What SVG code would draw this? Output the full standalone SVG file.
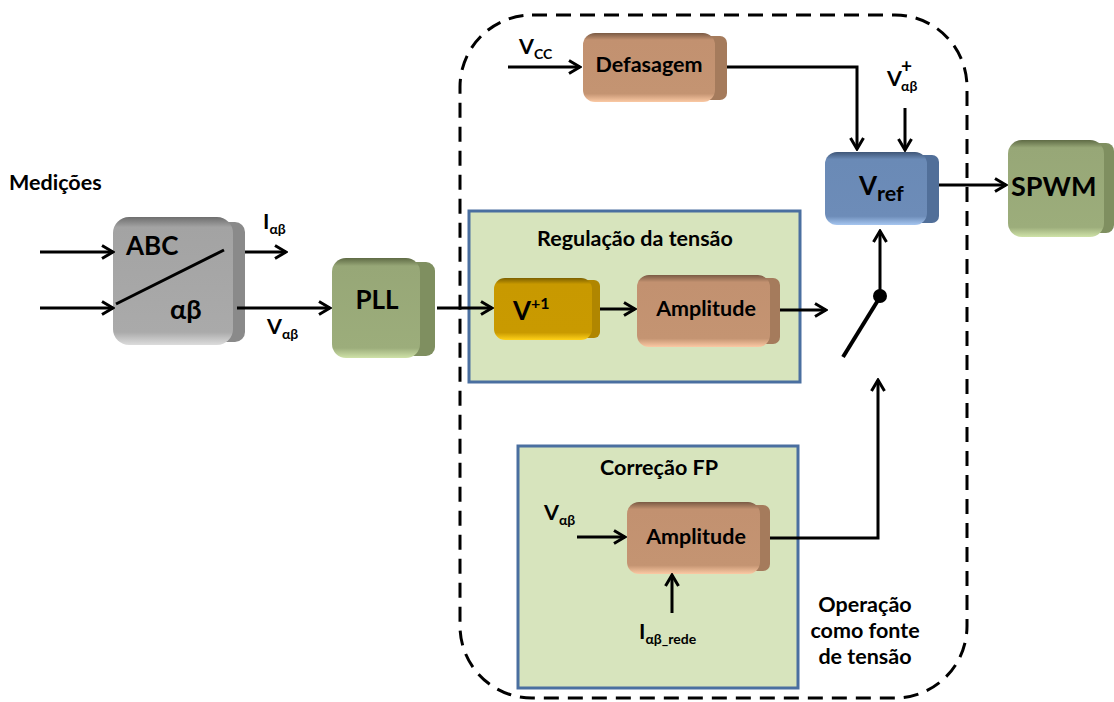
<svg xmlns="http://www.w3.org/2000/svg" width="1114" height="702" viewBox="0 0 1114 702">
  <style>
    text { font-family: Lato, "Liberation Sans", sans-serif; font-weight: bold; fill: #000; }
    .lbl { font-size: 21.5px; }
    .big { font-size: 26px; }
    .sub { font-size: 14px; }
    .wire { fill: none; stroke: #000; stroke-width: 3; }
    .arr { marker-end: url(#head); }
    .panel { fill: #d7e4bd; stroke: #4a6fa0; stroke-width: 3; }
    .frame { fill: none; stroke: #000; stroke-width: 3; stroke-dasharray: 15 9; }
  </style>
  <defs>
    <marker id="head" markerUnits="userSpaceOnUse" markerWidth="16" markerHeight="16" refX="14" refY="8" orient="auto">
      <path d="M3,1.5 L14,8 L3,14.5" fill="none" stroke="#000" stroke-width="3"/>
    </marker>
    <linearGradient id="gGray" x1="0" y1="0" x2="0" y2="1">
      <stop offset="0" stop-color="#6e6e6e"/><stop offset="0.08" stop-color="#a3a3a3"/>
      <stop offset="0.9" stop-color="#aaaaaa"/><stop offset="1" stop-color="#dcdcdc"/>
    </linearGradient>
    <linearGradient id="gGreen" x1="0" y1="0" x2="0" y2="1">
      <stop offset="0" stop-color="#5f6b45"/><stop offset="0.08" stop-color="#97a777"/>
      <stop offset="0.9" stop-color="#9cad7b"/><stop offset="1" stop-color="#cfe2a8"/>
    </linearGradient>
    <linearGradient id="gOrange" x1="0" y1="0" x2="0" y2="1">
      <stop offset="0" stop-color="#7a5a44"/><stop offset="0.1" stop-color="#c29170"/>
      <stop offset="0.88" stop-color="#c49472"/><stop offset="1" stop-color="#fbc9a4"/>
    </linearGradient>
    <linearGradient id="gBlue" x1="0" y1="0" x2="0" y2="1">
      <stop offset="0" stop-color="#3f5677"/><stop offset="0.1" stop-color="#6a8ab6"/>
      <stop offset="0.88" stop-color="#6d8cb8"/><stop offset="1" stop-color="#a6c6f0"/>
    </linearGradient>
    <linearGradient id="gYellow" x1="0" y1="0" x2="0" y2="1">
      <stop offset="0" stop-color="#7d6000"/><stop offset="0.1" stop-color="#c89900"/>
      <stop offset="0.88" stop-color="#c99a00"/><stop offset="1" stop-color="#ffd21a"/>
    </linearGradient>
  </defs>

  <!-- dashed enclosure for the voltage-source operation -->
  <rect class="frame" x="460" y="15" width="507" height="683" rx="72"/>

  <!-- panels -->
  <g id="panel-regulacao">
    <rect class="panel" x="469" y="211" width="331" height="171"/>
    <text class="lbl" x="635" y="246" text-anchor="middle">Regulação da tensão</text>
  </g>
  <g id="panel-fp">
    <rect class="panel" x="518" y="446" width="280" height="242"/>
    <text class="lbl" x="659" y="475" text-anchor="middle">Correção FP</text>
  </g>

  <!-- blocks: front face plus extruded right side -->
  <g id="abc">
    <rect x="200" y="222" width="45" height="120" rx="10" fill="#8a8a8a"/>
    <rect x="113" y="217" width="120" height="128" rx="16" fill="url(#gGray)"/>
    <line x1="116" y1="304" x2="224" y2="250" stroke="#000" stroke-width="3"/>
    <text class="big" x="126" y="255">ABC</text>
    <text x="170" y="319" style="font-size:27px">αβ</text>
  </g>
  <g id="pll">
    <rect x="405" y="262" width="30" height="94" rx="9" fill="#7f8f60"/>
    <rect x="332" y="258" width="88" height="100" rx="14" fill="url(#gGreen)"/>
    <text class="big" x="377" y="309" text-anchor="middle">PLL</text>
  </g>
  <g id="defasagem">
    <rect x="700" y="36" width="27" height="64" rx="7" fill="#a57b5c"/>
    <rect x="583" y="33" width="132" height="69" rx="12" fill="url(#gOrange)"/>
    <text class="lbl" x="649" y="72" text-anchor="middle">Defasagem</text>
  </g>
  <g id="vref">
    <rect x="912" y="155" width="27" height="68" rx="7" fill="#516f99"/>
    <rect x="825" y="152" width="102" height="73" rx="12" fill="url(#gBlue)"/>
    <text class="big" x="859" y="195">V<tspan class="lbl" dy="6">ref</tspan></text>
  </g>
  <g id="spwm">
    <rect x="1090" y="143" width="24" height="90" rx="8" fill="#7f8f60"/>
    <rect x="1008" y="140" width="96" height="97" rx="14" fill="url(#gGreen)"/>
    <text class="big" x="1011" y="196" style="font-size:27px">SPWM</text>
  </g>
  <g id="v1">
    <rect x="582" y="280" width="18" height="58" rx="6" fill="#b08600"/>
    <rect x="494" y="278" width="98" height="62" rx="11" fill="url(#gYellow)"/>
    <text class="big" x="513" y="320">V<tspan style="font-size:16px" dy="-11">+1</tspan></text>
  </g>
  <g id="amp-regulacao">
    <rect x="755" y="278" width="25" height="66" rx="7" fill="#a57b5c"/>
    <rect x="637" y="275" width="133" height="72" rx="12" fill="url(#gOrange)"/>
    <text class="lbl" x="706" y="316" text-anchor="middle">Amplitude</text>
  </g>
  <g id="amp-fp">
    <rect x="745" y="505" width="25" height="66" rx="7" fill="#a57b5c"/>
    <rect x="627" y="502" width="133" height="72" rx="12" fill="url(#gOrange)"/>
    <text class="lbl" x="696" y="544" text-anchor="middle">Amplitude</text>
  </g>

  <!-- switch -->
  <g id="switch">
    <line x1="843" y1="357" x2="880" y2="297" stroke="#000" stroke-width="4"/>
    <circle cx="880" cy="296" r="7" fill="#000"/>
  </g>

  <!-- connectors -->
  <g id="connectors">
    <line class="wire arr" x1="40" y1="252" x2="113" y2="252"/>
    <line class="wire arr" x1="40" y1="308" x2="113" y2="308"/>
    <line class="wire arr" x1="245" y1="252" x2="286" y2="252"/>
    <line class="wire arr" x1="237" y1="308" x2="330" y2="308"/>
    <line class="wire arr" x1="437" y1="308" x2="492" y2="308"/>
    <line class="wire arr" x1="600" y1="309" x2="635" y2="309"/>
    <line class="wire arr" x1="780" y1="310" x2="826" y2="310"/>
    <line class="wire arr" x1="880" y1="296" x2="880" y2="231"/>
    <polyline class="wire arr" points="770,538 878,538 878,380"/>
    <line class="wire arr" x1="508" y1="67" x2="580" y2="67"/>
    <polyline class="wire arr" points="727,67 857,67 857,149"/>
    <line class="wire arr" x1="905" y1="108" x2="905" y2="150"/>
    <line class="wire arr" x1="939" y1="185" x2="1006" y2="185"/>
    <line class="wire arr" x1="577" y1="537" x2="625" y2="537"/>
    <line class="wire arr" x1="672" y1="613" x2="672" y2="575"/>
  </g>

  <!-- signal labels -->
  <g id="labels">
    <text class="lbl" x="9" y="190">Medições</text>
    <text class="lbl" x="263" y="229">I<tspan class="sub" dy="5">αβ</tspan></text>
    <text class="lbl" x="267" y="334">V<tspan class="sub" dy="5">αβ</tspan></text>
    <text class="lbl" x="519" y="54">V<tspan class="sub" dy="5">CC</tspan></text>
    <text class="lbl" x="887" y="86">V</text>
    <text x="901" y="73" style="font-size:19px">+</text>
    <text class="sub" x="901" y="91">αβ</text>
    <text class="lbl" x="544" y="520">V<tspan class="sub" dy="5">αβ</tspan></text>
    <text class="lbl" x="639" y="639">I<tspan class="sub" dy="5">αβ_rede</tspan></text>
    <text class="lbl" x="865" y="612" text-anchor="middle">Operação</text>
    <text class="lbl" x="865" y="638" text-anchor="middle">como fonte</text>
    <text class="lbl" x="865" y="664" text-anchor="middle">de tensão</text>
  </g>
</svg>
